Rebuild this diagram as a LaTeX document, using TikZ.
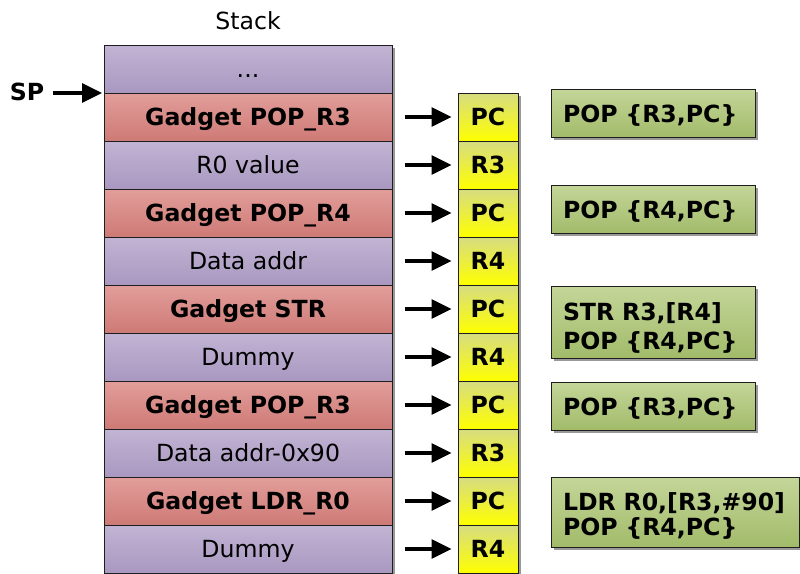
\documentclass[tikz,border=0pt]{standalone}
\usepackage{fontspec}
\setmainfont{DejaVu Sans}
\usetikzlibrary{arrows.meta,shadows}
\definecolor{purpT}{RGB}{194,180,212}
\definecolor{purpB}{RGB}{168,152,192}
\definecolor{redT}{RGB}{226,158,154}
\definecolor{redB}{RGB}{206,122,118}
\definecolor{yelT}{RGB}{214,220,130}
\definecolor{yelB}{RGB}{255,255,0}
\definecolor{grnT}{RGB}{196,214,153}
\definecolor{grnB}{RGB}{162,187,106}
\definecolor{edge}{RGB}{30,30,30}
\begin{document}
\begin{tikzpicture}[x=0.5pt,y=-0.5pt,
  font=\fontsize{11.8}{15}\selectfont,
  shadowed/.style={drop shadow={shadow xshift=1.5pt,shadow yshift=-1.5pt,fill=black!40,opacity=1}},
  cell/.style={rectangle,draw=edge,line width=0.5pt,minimum width=144pt,minimum height=24pt,inner sep=0pt,
    text height=8pt,text depth=0pt,shadowed},
  datacell/.style={cell,top color=purpT,bottom color=purpB},
  gadcell/.style={cell,top color=redT,bottom color=redB,font=\fontsize{11.8}{15}\selectfont\bfseries},
  regcell/.style={rectangle,draw=edge,line width=0.5pt,minimum width=30pt,minimum height=24pt,inner sep=0pt,shadowed,
    text height=8.8pt,text depth=0pt,
    top color=yelT,bottom color=yelB,font=\fontsize{11.8}{15}\selectfont\bfseries},
  codebox/.style={rectangle,draw=edge,line width=0.5pt,minimum width=102pt,minimum height=24pt,inner xsep=6pt,inner ysep=0pt,
    text width=90pt,align=left,shadowed,top color=grnT,bottom color=grnB,text height=9.3pt,text depth=0pt,
    font=\fontsize{11.8}{14.5}\selectfont\bfseries},
  arr/.style={-{Triangle[length=10pt,width=9.5pt]},line width=1.6pt,shorten >=3pt}]
\useasboundingbox (0,0) rectangle (800,574);
% title
\node[anchor=base] (title) at (248,29) {Stack};
% stack cells
\node[datacell] (s0)  at (248,69)  {...};
\node[gadcell]  (s1)  at (248,117) {Gadget POP\_R3};
\node[datacell] (s2)  at (248,165) {R0 value};
\node[gadcell]  (s3)  at (248,213) {Gadget POP\_R4};
\node[datacell] (s4)  at (248,261) {Data addr};
\node[gadcell]  (s5)  at (248,309) {Gadget STR};
\node[datacell] (s6)  at (248,357) {Dummy};
\node[gadcell]  (s7)  at (248,405) {Gadget POP\_R3};
\node[datacell] (s8)  at (248,453) {Data addr-0x90};
\node[gadcell]  (s9)  at (248,501) {Gadget LDR\_R0};
\node[datacell] (s10) at (248,549) {Dummy};
% SP
\node[anchor=base,font=\fontsize{11.8}{15}\selectfont\bfseries] (sp) at (27,100) {SP};
\coordinate (spstart) at (53,93);
\coordinate (sptip) at (104,93);
\draw[arr,shorten >=1pt] (spstart) -- (sptip);
% registers
\foreach \i/\r in {1/PC,2/R3,3/PC,4/R4,5/PC,6/R4,7/PC,8/R3,9/PC,10/R4}{
  \node[regcell] (r\i) at (488,{69+48*\i}) {\r};
  \coordinate (a\i) at (405,{69+48*\i});
  \draw[arr] (a\i) -- (r\i.west);
}
% code boxes
\node[codebox] (g1) at (653,113) {POP \{R3,PC\}};
\node[codebox] (g2) at (653,209) {POP \{R4,PC\}};
\node[codebox,minimum height=36pt,text height=12pt,text depth=14pt] (g3) at (653,322) {STR R3,[R4]\\POP \{R4,PC\}};
\node[codebox] (g4) at (653,406) {POP \{R3,PC\}};
\node[codebox,minimum width=124pt,text width=112pt,minimum height=35pt,text height=11pt,text depth=13pt,
  font=\fontsize{11.8}{12.5}\selectfont\bfseries] (g5) at (675,512) {LDR R0,[R3,\#90]\\POP \{R4,PC\}};
\end{tikzpicture}
\end{document}
